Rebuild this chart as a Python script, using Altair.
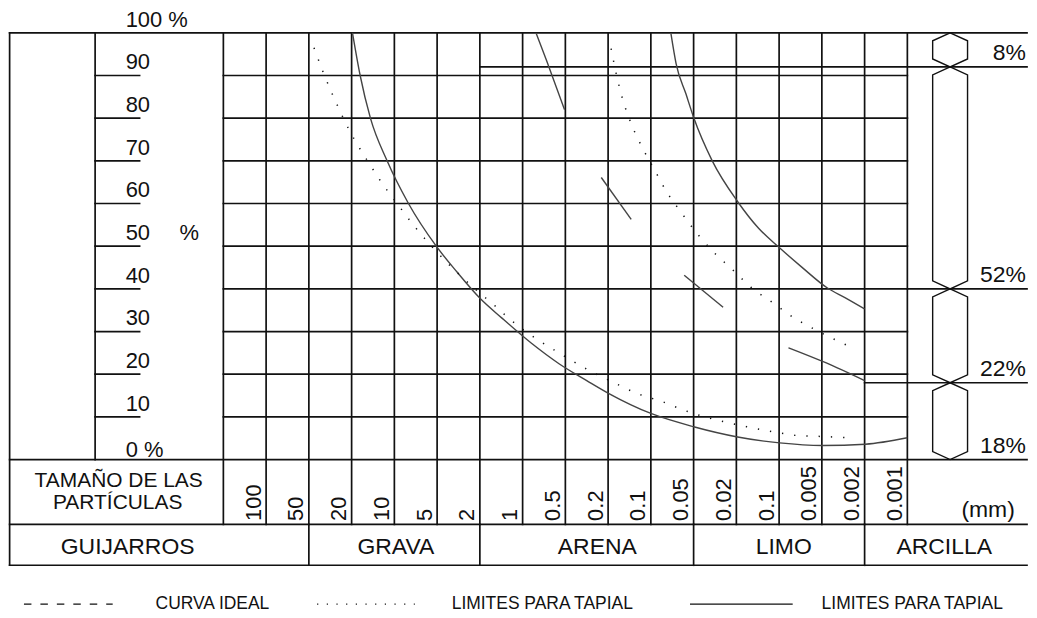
import altair as alt
import pandas as pd
import numpy as np

# ---------------- data ----------------
pct_ticks = [10, 20, 30, 40, 50, 60, 70, 80, 90]
size_labels = ["100", "50", "20", "10", "5", "2", "1", "0.5", "0.2", "0.1",
               "0.05", "0.02", "0.1", "0.005", "0.002", "0.001"]
groups = ["GUIJARROS", "GRAVA", "ARENA", "LIMO", "ARCILLA"]
group_first_col = [-5, 2, 6, 11, 15]          # first size column of each soil group
seg_labels = ["8%", "52%", "22%", "18%"]
seg_values = [8, 52, 22, 18]
seg_line_from_col = [6, 16, 15]                # column where each boundary line starts

# curves: x = size column index (0 = 100 mm ... 16 = end of 0.001), y = % passing
lim_solid_a_x = [3.02, 3.2, 3.44, 3.83, 4.33, 4.98, 5.46, 6.02, 6.51, 7.2, 7.86, 8.5, 9.03, 10.0, 11.0, 12.03, 13.01, 14.02, 15.02, 16.0]
lim_solid_a_y = [100, 90, 80, 70, 60, 50, 44, 37.6, 33.2, 27.3, 22.4, 18.5, 15.4, 10.8, 7.7, 5.3, 3.9, 3.3, 3.6, 5.1]
lim_solid_b_x = [10.47, 10.59, 10.82, 11.01, 11.43, 12.04, 12.52, 12.99, 13.53, 14.13, 14.55, 15.0]
lim_solid_b_y = [99.8, 92.8, 85.7, 79.9, 70.1, 60.3, 54.2, 49.8, 45.1, 40.2, 37.9, 35.3]
lim_dot_a_x = [2.12, 2.33, 2.68, 2.94, 3.41, 3.73, 4.08, 4.45, 4.85, 5.46, 5.92, 6.39, 6.62, 8.05, 8.61, 9.14, 9.70, 10.26, 10.82, 11.69, 12.24, 12.87, 13.46, 14.04, 14.65]
lim_dot_a_y = [96.5, 90.9, 82.7, 77.3, 69.4, 64.5, 59.8, 54.9, 50.2, 43.9, 39.7, 35.7, 33.6, 23.8, 20.6, 18.0, 15.4, 13.6, 11.4, 8.9, 7.7, 6.5, 5.6, 5.4, 5.1]
lim_dot_b_x = [9.07, 9.19, 9.33, 9.54, 9.80, 10.08, 10.36, 10.71, 11.08, 11.45, 11.90, 12.34, 12.83, 13.32, 13.85, 14.37, 14.67]
lim_dot_b_y = [96.3, 90.4, 84.8, 78.7, 73.1, 68.0, 62.9, 57.9, 53.0, 48.8, 44.6, 40.4, 36.9, 33.4, 30.4, 27.8, 26.4]
# ideal curve (long dashes)
ideal_x = [[7.32, 7.56, 7.98], [8.84, 9.54], [10.78, 11.69], [13.22, 14.09, 15.0]]
ideal_y = [[99.8, 93.5, 82.0], [66.1, 56.3], [43.2, 35.7], [26.2, 22.7, 18.5]]

legend_labels = ["CURVA IDEAL", "LIMITES PARA TAPIAL", "LIMITES PARA TAPIAL"]

# ---------------- layout ----------------
PX_COL, PX_PCT = 42.875, 4.28
W, H = 1021, 602
X0 = -(223 - 8) / PX_COL
X1 = X0 + W / PX_COL
Y1 = 100 + (32 - 8) / PX_PCT
Y0 = Y1 - H / PX_PCT

def cx(px):
    return (px - 223) / PX_COL

def py(p):
    return (460 - p) / PX_PCT

ROW1_BOT = py(525)
ROW2_BOT = py(566)
FONT = "Liberation Sans"
INK = "#111111"
CURVE = "#444444"

xs = alt.Scale(domain=[X0, X1], nice=False, zero=False)
ys = alt.Scale(domain=[Y0, Y1], nice=False, zero=False)

def enc(x="x", y="y"):
    return dict(x=alt.X(f"{x}:Q", scale=xs, axis=None),
                y=alt.Y(f"{y}:Q", scale=ys, axis=None))

# ---------------- frame / grid ----------------
rules = []
def hline(y, a, b):
    rules.append(dict(x=a, x2=b, y=y, y2=y))
def vline(x, a, b):
    rules.append(dict(x=x, x2=x, y=a, y2=b))

ncol = len(size_labels)
for c in range(ncol + 1):
    vline(c, ROW1_BOT, 100)
for p in pct_ticks:
    hline(p, 0, ncol)
    hline(p, -3, cx(139))
for yv in [100, 0, ROW1_BOT, ROW2_BOT]:
    hline(yv, -5, X1)
vline(-5, ROW2_BOT, 100)
vline(-3, 0, 100)
for g in group_first_col[1:]:
    vline(g, ROW2_BOT, ROW1_BOT)
bounds = list(100 - np.cumsum(seg_values))
for b, start in zip(bounds[:-1], seg_line_from_col):
    hline(b, start, X1)
rules_df = pd.DataFrame(rules)

grid = alt.Chart(rules_df).mark_rule(color=INK, strokeWidth=1.7, strokeCap="square").encode(
    **enc(), x2="x2:Q", y2="y2:Q")

# ---------------- texts ----------------
ylab = pd.DataFrame({
    "t": [str(p) for p in pct_ticks] + ["0 %", "100 %", "%"],
    "x": [cx(125)] * 9 + [cx(125), cx(125), cx(179)],
    "y": [p + 1.45 for p in pct_ticks] + [py(457), py(26), 50 + 1.45],
})
ylab_t = alt.Chart(ylab).mark_text(align="left", baseline="alphabetic", font=FONT,
                                   fontSize=22, color=INK).encode(**enc(), text="t:N")

sz = pd.DataFrame({"t": size_labels,
                   "x": [i + 1 - 0.13 for i in range(ncol)],
                   "y": [py(521.5)] * ncol})
sz_t = alt.Chart(sz).mark_text(angle=270, align="left", baseline="alphabetic", font=FONT,
                               fontSize=22, color=INK).encode(**enc(), text="t:N")

head = pd.DataFrame({"t": ["TAMAÑO DE LAS", "PARTÍCULAS"],
                     "x": [cx(118), cx(117)],
                     "y": [py(488), py(510)]})
head_t = alt.Chart(head).mark_text(align="center", baseline="alphabetic", font=FONT,
                                   fontSize=21, color=INK).encode(**enc(), text="t:N")
mm_t = alt.Chart(pd.DataFrame({"t": ["(mm)"], "x": [cx(990)], "y": [py(518)]})).mark_text(
    align="center", baseline="alphabetic", font=FONT, fontSize=23, color=INK).encode(**enc(), text="t:N")

grp_centers = [cx(127), cx(396), cx(598), cx(785), cx(946)]
grp = pd.DataFrame({"t": groups, "x": grp_centers, "y": [py(555)] * len(groups)})
grp_t = alt.Chart(grp).mark_text(align="center", baseline="alphabetic", font=FONT,
                                 fontSize=23, color=INK).encode(**enc(), text="t:N")

seg_df = pd.DataFrame({"t": seg_labels, "x": [cx(1028)] * 4, "y": [lo + 1.6 for lo in bounds]})
seg_t = alt.Chart(seg_df).mark_text(align="right", baseline="alphabetic", font=FONT,
                                    fontSize=23, color=INK).encode(**enc(), text="t:N")

# ---------------- hexagons ----------------
hx = []
HC, HW, HI = 17.0, 0.408, 1.87
tops = [100] + bounds[:-1]
for k, (hi, lo) in enumerate(zip(tops, bounds)):
    pts = [(HC, hi), (HC + HW, hi - HI), (HC + HW, lo + HI), (HC, lo),
           (HC - HW, lo + HI), (HC - HW, hi - HI), (HC, hi)]
    for i, (a, b) in enumerate(pts):
        hx.append(dict(k=k, i=i, x=a, y=b))
hex_c = alt.Chart(pd.DataFrame(hx)).mark_line(color=INK, strokeWidth=1.4).encode(
    **enc(), detail="k:N", order="i:Q")

# ---------------- curves ----------------
rows = []
def add(name, xsr, ysr, style):
    for i, (a, b) in enumerate(zip(xsr, ysr)):
        rows.append(dict(c=name, i=i, x=a, y=b, s=style))
add("sa", lim_solid_a_x, lim_solid_a_y, "solid")
add("sb", lim_solid_b_x, lim_solid_b_y, "solid")
add("da", lim_dot_a_x, lim_dot_a_y, "dot")
add("db", lim_dot_b_x, lim_dot_b_y, "dot")
for j, (a, b) in enumerate(zip(ideal_x, ideal_y)):
    add(f"i{j}", a, b, "solid")
cdf = pd.DataFrame(rows)

solid_c = alt.Chart(cdf[cdf.s == "solid"]).mark_line(
    color=CURVE, strokeWidth=1.4, interpolate="monotone").encode(
    **enc(), detail="c:N", order="i:Q")
dot_c = alt.Chart(cdf[cdf.s == "dot"]).mark_line(
    color="#111111", strokeWidth=1.5, interpolate="monotone", strokeDash=[1.3, 11]).encode(
    **enc(), detail="c:N", order="i:Q")

# ---------------- legend ----------------
LY = py(605)
leg_lines = pd.DataFrame({"x": [cx(23), cx(317), cx(691)], "x2": [cx(112), cx(415), cx(794)],
                          "y": [LY] * 3, "k": ["dash", "dot", "solid"]})
leg_dash = alt.Chart(leg_lines[leg_lines.k == "dash"]).mark_rule(
    color=INK, strokeWidth=1.4, strokeDash=[7.5, 9]).encode(**enc(), x2="x2:Q")
leg_dot = alt.Chart(leg_lines[leg_lines.k == "dot"]).mark_rule(
    color=INK, strokeWidth=1.4, strokeDash=[1.2, 8.5]).encode(**enc(), x2="x2:Q")
leg_solid = alt.Chart(leg_lines[leg_lines.k == "solid"]).mark_rule(
    color=INK, strokeWidth=1.4).encode(**enc(), x2="x2:Q")
leg_txt = pd.DataFrame({"t": legend_labels, "x": [cx(155), cx(452), cx(823)], "y": [py(609.5)] * 3})
leg_t = alt.Chart(leg_txt).mark_text(align="left", baseline="alphabetic", font=FONT,
                                     fontSize=17.5, color=INK).encode(**enc(), text="t:N")

chart = alt.layer(
    grid, hex_c, solid_c, dot_c, ylab_t, sz_t, head_t, mm_t, grp_t, seg_t,
    leg_dash, leg_dot, leg_solid, leg_t
).properties(width=W, height=H, padding=0, background="white").configure_view(stroke=None)

chart.save("out.html", embed_options={"renderer": "svg", "actions": False})
